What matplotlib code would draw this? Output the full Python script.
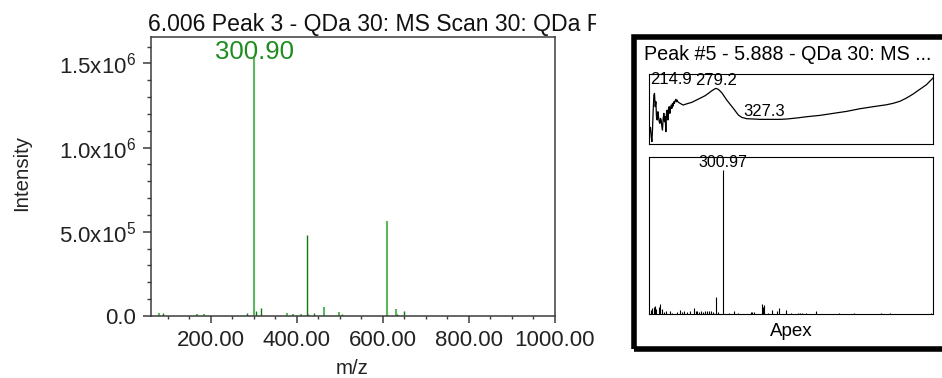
import matplotlib
matplotlib.use("Agg")
import matplotlib.pyplot as plt
from matplotlib.patches import Rectangle
from matplotlib.transforms import Bbox, TransformedBbox
from matplotlib.ticker import MultipleLocator, FixedLocator

plt.rcParams["font.family"] = ["Liberation Sans", "DejaVu Sans"]
plt.rcParams["mathtext.fontset"] = "custom"
plt.rcParams["mathtext.rm"] = "Liberation Sans"
plt.rcParams["mathtext.default"] = "regular"

# ---- main MS spectrum (scan at 6.006 min) ----
main_title = "6.006 Peak 3 - QDa 30: MS Scan 30: QDa Positive(TIC)"
base_peak_mz = 300.90
# strong sticks (drawn in light green)
mz_light = [79.3, 168.4, 184.0, 300.90, 377.6, 390.2, 408.8, 462.3, 497.1, 609.4, 629.7]
int_light = [1.8e4, 9e3, 9e3, 1.54e6, 1.6e4, 9e3, 1.2e4, 5.5e4, 2.4e4, 5.67e5, 4.2e4]
# remaining sticks (drawn in dark green)
mz_dark = [89.3, 284.6, 303.7, 315.8, 424.1, 426.5, 439.0, 504.8, 632.0, 648.3]
int_dark = [1.8e4, 1.6e4, 3.0e4, 4.8e4, 4.82e5, 1.0e4, 1.8e4, 9e3, 1.0e4, 3.0e4]

x_ticks = [200, 400, 600, 800, 1000]
x_tick_labels = ["200.00", "400.00", "600.00", "800.00", "1000.00"]
y_ticks = [0, 5e5, 1e6, 1.5e6]
y_tick_labels = ["0.0", r"5.0x$10^{5}$", r"1.0x$10^{6}$", r"1.5x$10^{6}$"]

# ---- inset: UV spectrum of peak #5 ----
inset_title = "Peak #5 - 5.888 - QDa 30: MS ..."
uv_nm = [212.9, 213.5, 214.2, 214.9, 215.5, 216.2, 216.9, 217.5, 218.2, 218.9,
         219.5, 220.2, 220.9, 221.5, 222.2, 222.9, 223.5, 224.2, 224.9, 225.5,
         226.2, 226.9, 227.5, 228.2, 228.9, 229.5, 230.2, 230.9, 231.5, 232.2,
         232.9, 233.5, 234.2, 234.9, 235.5, 236.2, 236.9, 237.5, 238.2, 238.9,
         239.5, 240.2, 240.9, 241.5, 243.2, 244.9, 246.5, 248.2, 251.5, 254.9,
         258.2, 261.5, 264.9, 268.2, 271.5, 274.9, 278.2, 279.2, 281.5, 284.9,
         289.9, 296.5, 301.5, 304.9, 309.9, 316.5, 323.2, 327.3, 333.2, 343.2,
         349.9, 359.9, 369.9, 383.2, 396.5, 409.9, 423.2, 436.5, 449.9, 456.5,
         463.2, 469.9, 476.5, 483.2, 489.9, 496.5]
uv_abs = [0.173, 0.234, 0.103, 0.033, 0.196, 0.477, 0.687, 0.711, 0.524, 0.594,
          0.383, 0.337, 0.453, 0.383, 0.313, 0.290, 0.360, 0.337, 0.243, 0.196,
          0.360, 0.430, 0.313, 0.383, 0.173, 0.430, 0.477, 0.337, 0.453, 0.524,
          0.430, 0.500, 0.547, 0.500, 0.571, 0.533, 0.594, 0.571, 0.608, 0.627,
          0.594, 0.617, 0.594, 0.585, 0.571, 0.557, 0.547, 0.557, 0.571, 0.585,
          0.608, 0.631, 0.655, 0.678, 0.711, 0.748, 0.776, 0.781, 0.767, 0.720,
          0.617, 0.500, 0.407, 0.374, 0.355, 0.351, 0.346, 0.346, 0.346, 0.346,
          0.351, 0.365, 0.383, 0.402, 0.430, 0.458, 0.495, 0.524, 0.551, 0.571,
          0.599, 0.645, 0.701, 0.767, 0.832, 0.926]
uv_peak_labels = [214.9, 279.2, 327.3]
uv_label_heights = [0.80, 0.781, 0.346]

# ---- inset: apex MS spectrum (relative intensity) ----
apex_label = 300.97
apex_mz = [65.5, 69.9, 74.3, 78.7, 83.0, 91.8, 96.2, 100.6, 109.3, 113.7,
           126.9, 135.6, 151.0, 161.9, 168.5, 175.0, 183.9, 192.5, 205.6, 212.2,
           216.8, 223.4, 229.9, 236.5, 243.1, 249.6, 256.2, 262.8, 269.4, 280.2,
           286.8, 300.97, 322.0, 337.2, 350.3, 394.3, 398.6, 405.1, 429.2, 433.6,
           438.0, 448.9, 464.3, 479.7, 486.3, 508.0, 525.8, 547.5, 554.1, 560.7,
           576.1, 606.7, 683.5, 731.6, 821.6, 852.2, 987.9]
apex_int = [2.8, 3.9, 5.1, 5.6, 3.2, 5.1, 6.9, 3.2, 1.6, 1.9,
            2.3, 0.9, 1.6, 2.8, 1.6, 2.3, 1.4, 1.9, 4.2, 2.3,
            1.9, 1.6, 1.9, 1.2, 1.9, 1.9, 2.3, 2.3, 1.6, 11.6,
            1.2, 100.0, 0.7, 1.9, 0.7, 1.2, 1.4, 1.4, 6.9, 5.1,
            6.3, 0.7, 2.8, 1.9, 4.2, 2.5, 0.7, 0.7, 0.7, 0.7,
            0.7, 2.3, 0.7, 0.7, 0.7, 0.7, 0.9]

W, H = 942, 378
fig = plt.figure(figsize=(W / 100, H / 100), dpi=100)


def fx(px):
    return px / W


def fy(py):
    return 1 - py / H


# ---------------- main spectrum ----------------
spine_c = "#3c3c3c"
ax = fig.add_axes([fx(151), fy(316), fx(555) - fx(151), fy(37) - fy(316)])
ax.vlines(mz_light, 0, int_light, color="#5cb85c", lw=1.5)
ax.vlines(mz_dark, 0, int_dark, color="#0b7a0b", lw=1.0)
ax.set_xlim(60.5, 1000)
ax.set_ylim(0, 1.657e6)
ax.xaxis.set_major_locator(FixedLocator(x_ticks))
ax.set_xticklabels(x_tick_labels)
ax.xaxis.set_minor_locator(MultipleLocator(50))
ax.yaxis.set_major_locator(FixedLocator(y_ticks))
ax.set_yticklabels(y_tick_labels)
ax.yaxis.set_minor_locator(MultipleLocator(1e5))
for s in ax.spines.values():
    s.set_color(spine_c)
    s.set_linewidth(1.1)
ax.tick_params(axis="both", which="major", labelsize=16, colors=spine_c,
               labelcolor="#222222", width=1.1)
ax.tick_params(axis="x", which="major", length=5, pad=5)
ax.tick_params(axis="x", which="minor", length=2.5, width=1.0, colors=spine_c)
ax.tick_params(axis="y", which="major", length=5.5, pad=5)
ax.tick_params(axis="y", which="minor", length=3, width=1.0, colors=spine_c)

bp = mz_light.index(base_peak_mz)
ax.annotate(f"{base_peak_mz:.2f}", xy=(base_peak_mz, int_light[bp]),
            xytext=(0, -1.5), textcoords="offset points",
            ha="center", va="baseline", fontsize=18.5, color="#1e8c1e")

fig.text(fx(22), fy(173), "Intensity", rotation=90, ha="center", va="center",
         fontsize=14.7, color="#222222")
fig.text(fx(352), fy(368), "m/z", ha="center", va="center",
         fontsize=14.7, color="#222222")

t = fig.text(fx(148), fy(30.5), main_title, ha="left", va="baseline",
             fontsize=16.6, color="#111111")
t.set_clip_box(TransformedBbox(Bbox.from_extents(0, 0, fx(596), 1),
                               fig.transFigure))
t.set_clip_on(True)

# ---------------- inset panel ----------------
frame = Rectangle((fx(633.5), fy(348.5)), fx(990) - fx(633.5),
                  fy(36.5) - fy(348.5), transform=fig.transFigure,
                  fill=False, ec="black", lw=4.0, clip_on=False)
fig.add_artist(frame)
fig.text(fx(643.5), fy(60), inset_title, ha="left", va="baseline",
         fontsize=14.2, color="black")

uv = fig.add_axes([fx(649.3), fy(144), fx(933.3) - fx(649.3), fy(73.5) - fy(144)])
uv.plot(uv_nm, uv_abs, color="black", lw=0.9)
uv.set_xlim(212.3, 496.8)
uv.set_ylim(0, 0.99)
uv.set_xticks([])
uv.set_yticks([])
for s in uv.spines.values():
    s.set_linewidth(0.8)
for wl, h in zip(uv_peak_labels, uv_label_heights):
    if wl == uv_peak_labels[0]:
        uv.text(213.2, h, f"{wl:.1f}", ha="left", va="bottom", fontsize=12)
    else:
        uv.text(wl, h, f"{wl:.1f}", ha="center", va="bottom", fontsize=12)

ms = fig.add_axes([fx(649.3), fy(314), fx(933.3) - fx(649.3), fy(157.3) - fy(314)])
ms.vlines(apex_mz, 0, apex_int, color="black", lw=0.8)
ms.set_xlim(60, 994)
ms.set_ylim(0, 109)
ms.set_xticks([])
ms.set_yticks([])
for s in ms.spines.values():
    s.set_linewidth(0.8)
ai = apex_mz.index(apex_label)
ms.text(apex_label, apex_int[ai], f"{apex_label:.2f}", ha="center", va="bottom",
        fontsize=11.5)
fig.text(fx(791.3), fy(332), "Apex", ha="center", va="center", fontsize=13.5)

fig.savefig("out.png", dpi=100)
